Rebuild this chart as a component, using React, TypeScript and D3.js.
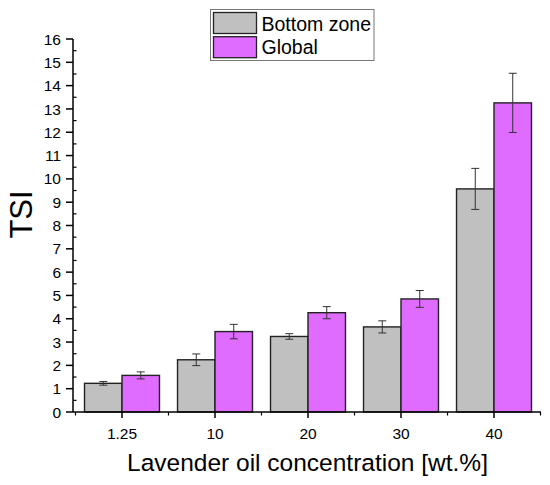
import React from "react";
import * as d3 from "d3";

const categories = ["1.25", "10", "20", "30", "40"];
const bottomZone = [1.23, 2.24, 3.24, 3.65, 9.57];
const bottomErr = [0.08, 0.25, 0.12, 0.26, 0.88];
const globalVals = [1.57, 3.45, 4.26, 4.85, 13.26];
const globalErr = [0.15, 0.31, 0.26, 0.36, 1.27];
const yTicks = d3.range(0, 17, 1);
const yMinorTicks = d3.range(0.5, 16, 1);
const seriesNames = ["Bottom zone", "Global"];
const seriesColors = ["#C0C0C0", "#E06BFF"];

const W = 550;
const H = 485;
const FONT = "'Liberation Sans', Arial, Helvetica, sans-serif";

export default function App() {
  React.useEffect(() => {
    document.body.style.margin = "0";
  }, []);

  const x = d3.scaleBand<string>().domain(categories).range([75.5, 540.5]).paddingInner(0).paddingOuter(0);
  const y = d3.scaleLinear().domain([0, 16]).range([412, 39]);
  const step = x.step();
  const groupW = step * 0.806;
  const barW = groupW / 2;
  const sub = d3.scaleBand<number>().domain([0, 1]).range([0, groupW]).padding(0);

  const series = [
    { vals: bottomZone, errs: bottomErr, color: seriesColors[0] },
    { vals: globalVals, errs: globalErr, color: seriesColors[1] },
  ];

  const axisX = 73;
  const xMinor = [x.range()[0], ...categories.map((c) => (x(c) as number) + step)];

  return (
    <svg width={W} height={H} style={{ position: "absolute", left: 0, top: 0, background: "#fff" }} fontFamily={FONT}>
      <rect x={0} y={0} width={W} height={H} fill="#fff" />
      {/* bars */}
      {series.map((s, si) =>
        categories.map((c, i) => {
          const bx = (x(c) as number) + (step - groupW) / 2 + (sub(si) as number);
          const top = y(s.vals[i]);
          return (
            <rect
              key={`b${si}-${i}`}
              x={bx}
              y={top}
              width={barW}
              height={y(0) - top}
              fill={s.color}
              stroke="#222"
              strokeWidth={1.4}
            />
          );
        })
      )}
      {/* error bars */}
      {series.map((s, si) =>
        categories.map((c, i) => {
          const cx = (x(c) as number) + (step - groupW) / 2 + (sub(si) as number) + barW / 2;
          const y1 = y(s.vals[i] + s.errs[i]);
          const y2 = y(s.vals[i] - s.errs[i]);
          return (
            <g key={`e${si}-${i}`} stroke="#333" strokeWidth={1}>
              <line x1={cx} x2={cx} y1={y1} y2={y2} />
              <line x1={cx - 4} x2={cx + 4} y1={y1} y2={y1} />
              <line x1={cx - 4} x2={cx + 4} y1={y2} y2={y2} />
            </g>
          );
        })
      )}
      {/* y axis */}
      <line x1={axisX} x2={axisX} y1={y(0)} y2={y(16)} stroke="#000" strokeWidth={1.5} />
      {yTicks.map((t) => (
        <g key={`yt${t}`}>
          <line x1={axisX - 7} x2={axisX} y1={y(t)} y2={y(t)} stroke="#000" strokeWidth={1.5} />
          <text x={61} y={y(t)} dy="0.36em" textAnchor="end" fontSize={15.5} fill="#000">
            {t}
          </text>
        </g>
      ))}
      {yMinorTicks.map((t) => (
        <line key={`ym${t}`} x1={axisX} x2={axisX + 3.5} y1={y(t)} y2={y(t)} stroke="#000" strokeWidth={1.2} />
      ))}
      {/* x axis */}
      <line x1={axisX} x2={541} y1={y(0)} y2={y(0)} stroke="#000" strokeWidth={1.5} />
      {categories.map((c) => {
        const cx = (x(c) as number) + step / 2;
        return (
          <g key={`xt${c}`}>
            <line x1={cx} x2={cx} y1={y(0)} y2={y(0) + 6} stroke="#000" strokeWidth={1.5} />
            <text x={cx} y={439} textAnchor="middle" fontSize={15.5} fill="#000">
              {c}
            </text>
          </g>
        );
      })}
      {xMinor.map((m, i) => (
        <line key={`xm${i}`} x1={m} x2={m} y1={y(0)} y2={y(0) + 3.5} stroke="#000" strokeWidth={1.2} />
      ))}
      {/* axis titles */}
      <text x={307.5} y={471} textAnchor="middle" fontSize={24.5} fill="#000">
        Lavender oil concentration [wt.%]
      </text>
      <text transform={`translate(31.5,214.5) rotate(-90)`} textAnchor="middle" fontSize={31} fill="#000">
        TSI
      </text>
      {/* legend */}
      <rect x={210.5} y={9.5} width={163.5} height={51} fill="#fff" stroke="#777" strokeWidth={1} />
      {seriesNames.map((n, i) => (
        <g key={`lg${i}`}>
          <rect x={213.5} y={12.5 + i * 24.2} width={43} height={21} fill={seriesColors[i]} stroke="#222" strokeWidth={1.3} />
          <text x={261.5} y={30.5 + i * 23} fontSize={19.5} fill="#000">
            {n}
          </text>
        </g>
      ))}
    </svg>
  );
}
